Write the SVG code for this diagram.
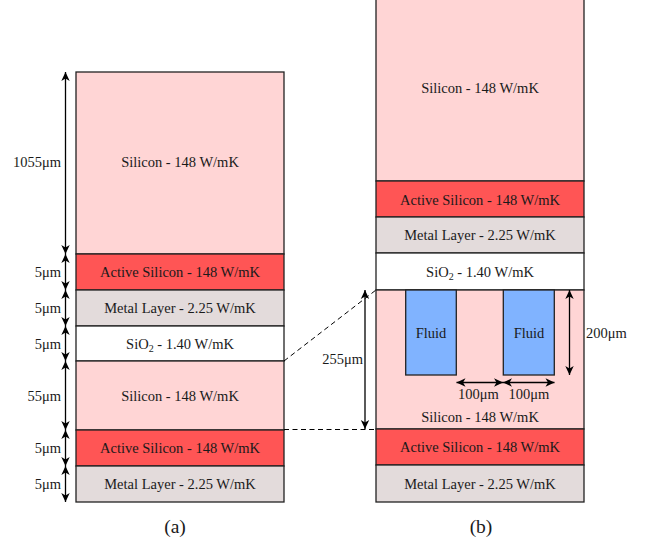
<svg xmlns="http://www.w3.org/2000/svg" width="646" height="541" viewBox="0 0 646 541">
<defs>
<marker id="ah" viewBox="-10 -5 11 10" markerWidth="11" markerHeight="10" refX="0" refY="0" orient="auto-start-reverse" markerUnits="userSpaceOnUse">
<path d="M0,0 L-9,-4.2 L-6.5,0 L-9,4.2 Z" fill="#000"/>
</marker>
<style>
text{font-family:"Liberation Serif","Times New Roman","DejaVu Serif",serif;font-size:14.5px;fill:#1a1a1a;text-anchor:middle}
.lbl{text-anchor:end}
.lbl2{text-anchor:start}
.cap{font-size:19.5px}
.si{fill:#ffd5d5;stroke:#222;stroke-width:1.3}
.act{fill:#ff5555;stroke:#222;stroke-width:1.3}
.met{fill:#e3dbdb;stroke:#222;stroke-width:1.3}
.ox{fill:#ffffff;stroke:#222;stroke-width:1.3}
.fl{fill:#80b3ff;stroke:#222;stroke-width:1.3}
.dim{stroke:#000;stroke-width:1.3;fill:none;marker-start:url(#ah);marker-end:url(#ah)}
.dash{stroke:#000;stroke-width:1;fill:none;stroke-dasharray:5,3.5}
</style>
</defs>
<g id="stack-a">
<g id="a-silicon-top"><rect class="si" x="76" y="72" width="208" height="182"/><text x="180" y="167">Silicon - 148 W/mK</text></g>
<g id="a-active-top"><rect class="act" x="76" y="254" width="208" height="36"/><text x="180" y="277">Active Silicon - 148 W/mK</text></g>
<g id="a-metal-top"><rect class="met" x="76" y="290" width="208" height="36"/><text x="180" y="313">Metal Layer - 2.25 W/mK</text></g>
<g id="a-sio2"><rect class="ox" x="76" y="326" width="208" height="35"/><text x="180" y="348.5">SiO<tspan font-size="10" dy="3">2</tspan><tspan dy="-3"> - 1.40 W/mK</tspan></text></g>
<g id="a-silicon-bot"><rect class="si" x="76" y="361" width="208" height="69"/><text x="180" y="400.5">Silicon - 148 W/mK</text></g>
<g id="a-active-bot"><rect class="act" x="76" y="430" width="208" height="36"/><text x="180" y="453">Active Silicon - 148 W/mK</text></g>
<g id="a-metal-bot"><rect class="met" x="76" y="466" width="208" height="36"/><text x="180" y="489">Metal Layer - 2.25 W/mK</text></g>
</g>
<g id="stack-b">
<g id="b-silicon-top"><rect class="si" x="376" y="-2" width="208" height="183"/><text x="480" y="93">Silicon - 148 W/mK</text></g>
<g id="b-active-top"><rect class="act" x="376" y="181" width="208" height="36"/><text x="480" y="204.5">Active Silicon - 148 W/mK</text></g>
<g id="b-metal-top"><rect class="met" x="376" y="217" width="208" height="36"/><text x="480" y="240">Metal Layer - 2.25 W/mK</text></g>
<g id="b-sio2"><rect class="ox" x="376" y="253" width="208" height="37"/><text x="480" y="276.5">SiO<tspan font-size="10" dy="3">2</tspan><tspan dy="-3"> - 1.40 W/mK</tspan></text></g>
<g id="b-silicon-chan"><rect class="si" x="376" y="290" width="208" height="139"/><text x="480" y="422">Silicon - 148 W/mK</text></g>
<g id="b-fluid-1"><rect class="fl" x="405.7" y="290" width="50.6" height="85"/><text x="431" y="338">Fluid</text></g>
<g id="b-fluid-2"><rect class="fl" x="503.3" y="290" width="51" height="85"/><text x="529" y="338">Fluid</text></g>
<g id="b-active-bot"><rect class="act" x="376" y="429" width="208" height="36"/><text x="480" y="452">Active Silicon - 148 W/mK</text></g>
<g id="b-metal-bot"><rect class="met" x="376" y="465" width="208" height="37"/><text x="480" y="489">Metal Layer - 2.25 W/mK</text></g>
</g>
<g id="connectors">
<line class="dim" x1="65.5" y1="72" x2="65.5" y2="254"/>
<line class="dim" x1="65.5" y1="254" x2="65.5" y2="290"/>
<line class="dim" x1="65.5" y1="290" x2="65.5" y2="326"/>
<line class="dim" x1="65.5" y1="326" x2="65.5" y2="361"/>
<line class="dim" x1="65.5" y1="361" x2="65.5" y2="430"/>
<line class="dim" x1="65.5" y1="430" x2="65.5" y2="466"/>
<line class="dim" x1="65.5" y1="466" x2="65.5" y2="502"/>
<line class="dim" x1="365" y1="290" x2="365" y2="429"/>
<line class="dim" x1="569.5" y1="290" x2="569.5" y2="375"/>
<line class="dim" x1="456.5" y1="382.5" x2="503" y2="382.5"/>
<line class="dim" x1="503" y1="382.5" x2="554.5" y2="382.5"/>
<line class="dash" x1="284" y1="361" x2="376" y2="290"/>
<line class="dash" x1="284" y1="429.5" x2="376" y2="429.5"/>
</g>
<g id="labels">
<text class="lbl" x="61" y="167">1055μm</text>
<text class="lbl" x="61" y="277">5μm</text>
<text class="lbl" x="61" y="313">5μm</text>
<text class="lbl" x="61" y="348.5">5μm</text>
<text class="lbl" x="61" y="400.5">55μm</text>
<text class="lbl" x="61" y="453">5μm</text>
<text class="lbl" x="61" y="489">5μm</text>
<text class="lbl" x="363" y="364">255μm</text>
<text class="lbl2" x="586" y="338">200μm</text>
<text x="478.5" y="399">100μm</text>
<text x="529" y="399">100μm</text>
<text class="cap" x="175" y="533">(a)</text>
<text class="cap" x="481" y="533">(b)</text>
</g>
</svg>
